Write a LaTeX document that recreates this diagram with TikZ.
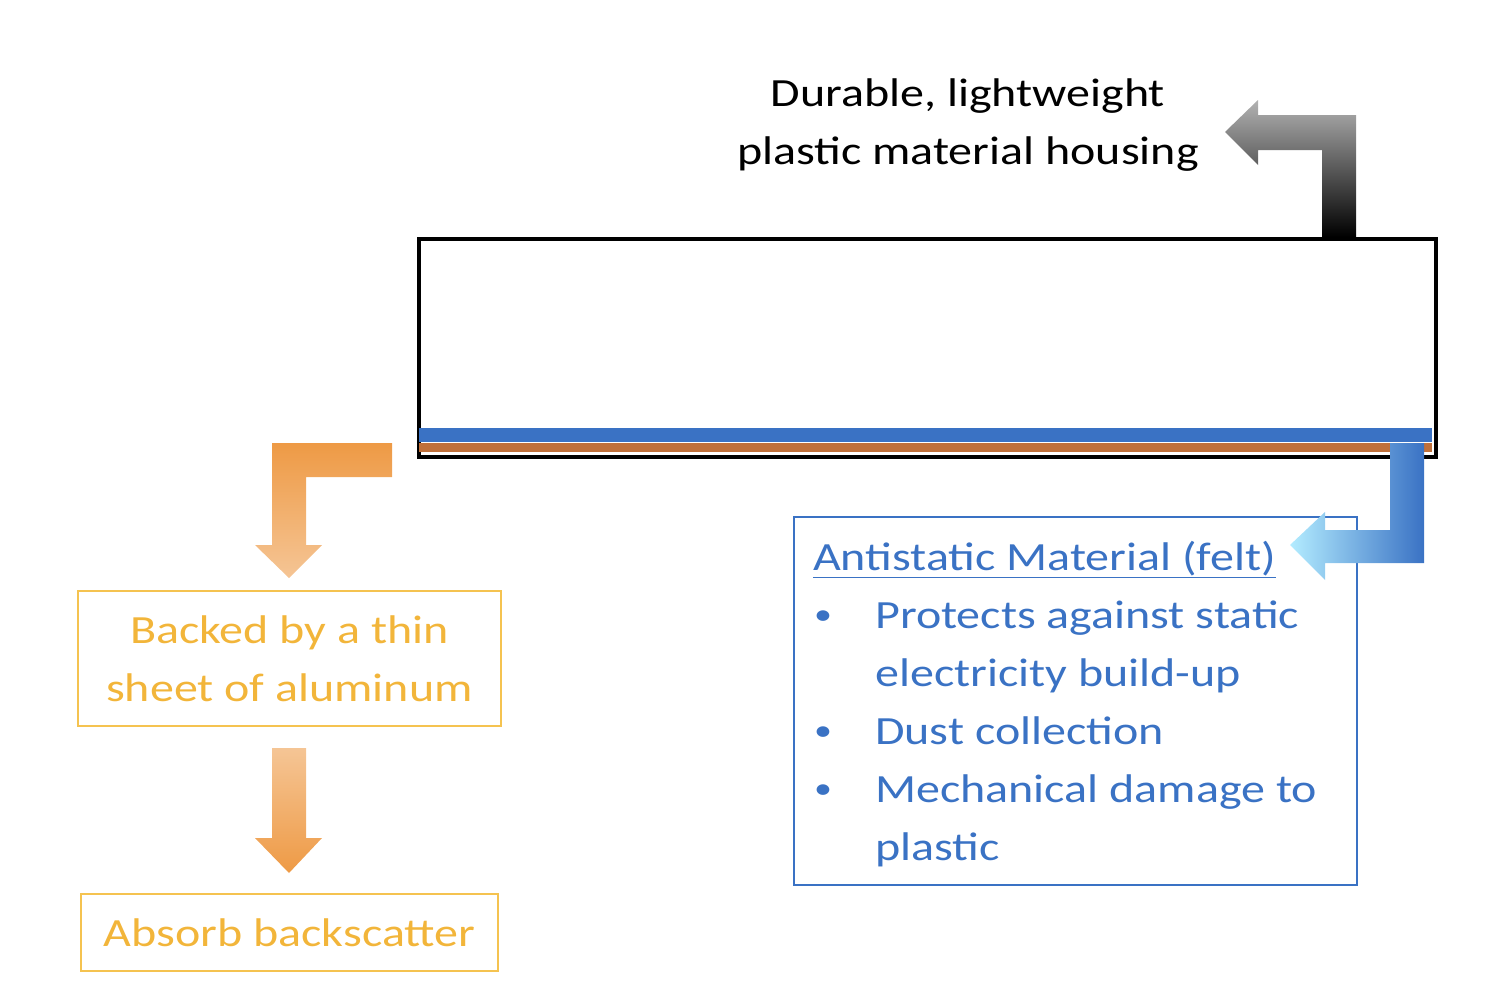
\documentclass[tikz,border=0pt]{standalone}
\usepackage{fontspec}
\setmainfont{Carlito}[FakeStretch=1.2]
\begin{document}
\begin{tikzpicture}[x=1pt,y=-1pt,
  lbl/.style={inner sep=0pt,font=\fontsize{40}{58}\selectfont},
  obox/.style={draw=ob,line width=2pt}]
\useasboundingbox (0,0) rectangle (1500,982);
\definecolor{ot}{HTML}{F2B53A}
\definecolor{ob}{HTML}{F5C350}
\definecolor{bt}{HTML}{3A72C4}
\definecolor{oa}{HTML}{EE9A45}
\definecolor{ol}{HTML}{F5C595}
\definecolor{os}{HTML}{C0703A}
% housing
\node[draw,line width=4pt,minimum width=1017pt,minimum height=218pt,anchor=north west,inner sep=0pt] (house) at (417,237) {};
\fill[bt] (419,428) rectangle (1432,442);
\fill[os] (419,443) rectangle (1432,452);
% black arrow
\shade[left color=gray!60,right color=black,shading angle=0]
 (1322,237)--(1322,150)--(1258,150)--(1258,165)--(1225,132)--(1258,100)--(1258,115)--(1356,115)--(1356,237)--cycle;
\node[lbl,align=center] (dur) at (968,125) {Durable, lightweight\\plastic material housing};
% orange bent arrow
\shade[top color=oa,bottom color=ol]
 (392,443)--(272,443)--(272,545)--(255,545)--(289,578)--(322,545)--(306,545)--(306,477)--(392,477)--cycle;
\node[obox,minimum width=423pt,minimum height=135pt,anchor=north west] (b1) at (77,590) {};
\node[lbl,text=ot,align=center] at (b1.center) {Backed by a thin\\sheet of aluminum};
\shade[top color=ol,bottom color=oa]
 (272,748)--(306,748)--(306,838)--(322,838)--(289,873)--(255,838)--(272,838)--cycle;
\node[obox,minimum width=417pt,minimum height=77pt,anchor=north west] (b2) at (80,893) {};
\node[lbl,text=ot] at (b2.center) {Absorb backscatter};
% blue
\node[draw=bt,line width=2pt,minimum width=563pt,minimum height=368pt,anchor=north west] (bb) at (793,516) {};
\shade[left color=blue!25!cyan!30,right color=bt]
 (1390,443)--(1424,443)--(1424,563)--(1325,563)--(1325,580)--(1290,545)--(1325,512)--(1325,530)--(1390,530)--cycle;
\node[lbl,text=bt,anchor=base west] at (813,570) {\underline{Antistatic Material (felt)}};
\foreach \y/\t in {628/Protects against static,744/Dust collection,802/Mechanical damage to}
  {\node[lbl,text=bt,anchor=base west,font=\fontsize{30}{30}\selectfont] at (814,\y-4) {\textbullet};
   \node[lbl,text=bt,anchor=base west] at (875,\y) {\t};}
\node[lbl,text=bt,anchor=base west] at (875,686) {electricity build-up};
\node[lbl,text=bt,anchor=base west] at (875,860) {plastic};
\end{tikzpicture}
\end{document}
